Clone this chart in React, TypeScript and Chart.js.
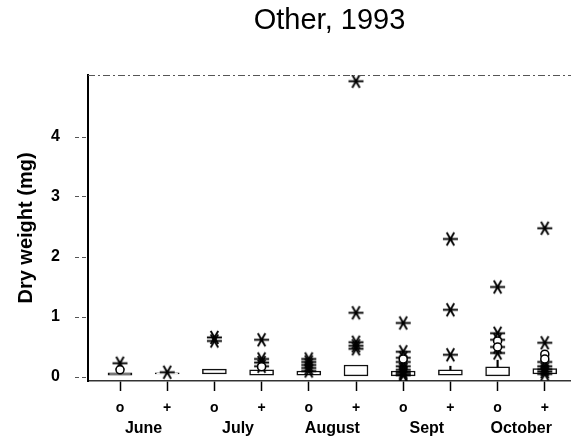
import React, { useEffect, useRef } from "react";
import { Chart, registerables } from "chart.js";

Chart.register(...registerables);

const chartTitle = "Other, 1993";
const yAxisTitle = "Dry weight (mg)";
const groupPositions = [1, 2, 3, 4, 5, 6, 7, 8, 9, 10];
const groupSymbols = ["o", "+", "o", "+", "o", "+", "o", "+", "o", "+"];
const monthPositions = [1.5, 3.5, 5.5, 7.5, 9.5];
const monthLabels = ["June", "July", "August", "Sept", "October"];
const yTickValues = [0, 1, 2, 3, 4];

const boxLow = [0.03, 0.05, 0.05, 0.03, 0.03, 0.02, 0.02, 0.03, 0.02, 0.05];
const boxHigh = [0.07, 0.07, 0.13, 0.12, 0.1, 0.2, 0.1, 0.12, 0.17, 0.14];
const whiskerLow = [null, null, null, null, null, null, null, 0.12, 0.17, null];
const whiskerHigh = [null, null, null, null, null, null, null, 0.18, 0.28, null];

const asterisks: number[][] = [
  [0.23],
  [0.08],
  [0.66, 0.6],
  [0.62, 0.3, 0.24, 0.18],
  [0.3, 0.25, 0.2, 0.15, 0.1],
  [4.93, 1.07, 0.58, 0.52, 0.47],
  [0.9, 0.42, 0.32, 0.25, 0.18, 0.12, 0.08, 0.05, 0.03],
  [2.3, 1.12, 0.37],
  [1.5, 0.73, 0.62, 0.5, 0.4],
  [2.48, 0.57, 0.25, 0.18, 0.13, 0.09, 0.05],
];
const circles: number[][] = [
  [0.12],
  [],
  [],
  [0.17],
  [],
  [],
  [0.3],
  [],
  [0.6, 0.5],
  [0.38, 0.3],
];

const FONT = "'Liberation Sans', Arial, Helvetica, sans-serif";

function makeAsterisk(): HTMLCanvasElement {
  const c = document.createElement("canvas");
  c.width = 17;
  c.height = 17;
  const g = c.getContext("2d")!;
  g.strokeStyle = "#000";
  g.lineWidth = 1.9;
  g.lineCap = "butt";
  const cx = 8.5;
  const cy = 8.5;
  const r = 7.5;
  [0, 60, 120].forEach((deg) => {
    const a = (deg * Math.PI) / 180;
    g.beginPath();
    g.moveTo(cx - r * Math.cos(a), cy - r * Math.sin(a));
    g.lineTo(cx + r * Math.cos(a), cy + r * Math.sin(a));
    g.stroke();
  });
  g.fillStyle = "#000";
  g.beginPath();
  g.arc(cx, cy, 2, 0, Math.PI * 2);
  g.fill();
  return c;
}

const topBorder = {
  id: "topBorder",
  afterDatasetsDraw(chart: any) {
    const { ctx, chartArea } = chart;
    ctx.save();
    ctx.strokeStyle = "#555";
    ctx.lineWidth = 1;
    ctx.setLineDash([7, 3, 2, 3]);
    ctx.beginPath();
    ctx.moveTo(chartArea.left, chartArea.top + 0.5);
    ctx.lineTo(chartArea.right, chartArea.top + 0.5);
    ctx.stroke();
    ctx.restore();
  },
};

export default function App() {
  const ref = useRef<HTMLCanvasElement | null>(null);

  useEffect(() => {
    if (!ref.current) return;
    const star = makeAsterisk();

    const asteriskData: { x: number; y: number }[] = [];
    asterisks.forEach((vals, i) =>
      vals.forEach((v) => asteriskData.push({ x: groupPositions[i], y: v }))
    );
    const circleData: { x: number; y: number }[] = [];
    circles.forEach((vals, i) =>
      vals.forEach((v) => circleData.push({ x: groupPositions[i], y: v }))
    );
    const boxData = groupPositions.map((x, i) => ({ x, y: [boxLow[i], boxHigh[i]] }));
    const whiskerData = groupPositions
      .map((x, i) => (whiskerLow[i] == null ? null : { x, y: [whiskerLow[i], whiskerHigh[i]] }))
      .filter((d) => d !== null);

    const step = 47.2;
    const xMin = 1 - 32 / step;
    const xMax = xMin + 483 / step;

    const chart = new Chart(ref.current, {
      type: "scatter",
      data: {
        datasets: [
          {
            type: "scatter",
            label: "circles",
            data: circleData,
            pointStyle: "circle",
            pointRadius: 4,
            pointBorderWidth: 1.5,
            pointBorderColor: "#000",
            pointBackgroundColor: "#fff",
          },
          {
            type: "scatter",
            label: "outliers",
            data: asteriskData,
            pointStyle: star,
            pointRadius: 8,
          },
          {
            type: "bar",
            label: "whiskers",
            data: whiskerData as any,
            backgroundColor: "#000",
            borderWidth: 0,
            barThickness: 1.5,
            grouped: false,
          },
          {
            type: "bar",
            label: "boxes",
            data: boxData as any,
            backgroundColor: "#fff",
            borderColor: "#111",
            borderWidth: 1.5,
            borderSkipped: false,
            barThickness: 24,
            grouped: false,
          },
        ] as any,
      },
      options: {
        animation: false,
        responsive: false,
        events: [],
        layout: { padding: 0, autoPadding: false },
        plugins: {
          legend: { display: false },
          tooltip: { enabled: false },
          title: {
            display: true,
            text: chartTitle,
            fullSize: false,
            color: "#000",
            font: { family: FONT, size: 29, weight: "normal" },
            padding: { top: 4, bottom: 36.2 },
          },
        },
        scales: {
          x: {
            type: "linear",
            position: "bottom",
            weight: 0,
            offset: false,
            min: xMin,
            max: xMax,
            afterBuildTicks: (s: any) => {
              s.ticks = groupPositions.map((v) => ({ value: v }));
            },
            afterFit: (s: any) => {
              s.height = 37;
              s.paddingLeft = 0;
              s.paddingRight = 0;
            },
            ticks: {
              autoSkip: false,
              maxRotation: 0,
              padding: 9,
              color: "#000",
              font: { family: FONT, size: 14, weight: "bold" },
              callback: (_v: any, i: number) => groupSymbols[i],
            },
            grid: {
              offset: false,
              drawOnChartArea: false,
              drawTicks: true,
              tickLength: 10,
              tickColor: "#000",
              tickWidth: 1.5,
            },
            border: { display: true, color: "#333", width: 1.5, dash: [8, 3] },
          },
          months: {
            type: "linear",
            position: "bottom",
            weight: 1,
            offset: false,
            min: xMin,
            max: xMax,
            afterBuildTicks: (s: any) => {
              s.ticks = monthPositions.map((v) => ({ value: v }));
            },
            afterFit: (s: any) => {
              s.height = 21;
              s.paddingLeft = 0;
              s.paddingRight = 0;
            },
            ticks: {
              autoSkip: false,
              maxRotation: 0,
              padding: 1,
              color: "#000",
              font: { family: FONT, size: 16, weight: "bold" },
              callback: (_v: any, i: number) => monthLabels[i],
            },
            grid: { display: false, drawTicks: false, offset: false },
            border: { display: false },
          },
          y: {
            type: "linear",
            min: -4 / 60,
            max: 302 / 60,
            afterBuildTicks: (s: any) => {
              s.ticks = yTickValues.map((v) => ({ value: v }));
            },
            afterFit: (s: any) => {
              s.width = 88;
            },
            ticks: {
              padding: 15,
              color: "#000",
              font: { family: FONT, size: 16, weight: "bold" },
              callback: (v: any) => String(v),
            },
            grid: {
              drawOnChartArea: false,
              drawTicks: true,
              tickLength: 13,
              tickColor: "#555",
              tickWidth: 1,
              tickBorderDash: [4, 3],
            },
            border: { display: true, color: "#000", width: 2 },
            title: {
              display: true,
              text: yAxisTitle,
              color: "#000",
              font: { family: FONT, size: 20, weight: "bold" },
              padding: { top: 14, bottom: 0 },
            },
          },
        },
      },
      plugins: [topBorder],
    } as any);

    return () => chart.destroy();
  }, []);

  return (
    <div style={{ position: "absolute", left: 0, top: 0, width: 571, height: 439, background: "#fff" }}>
      <canvas ref={ref} width={571} height={439} style={{ display: "block" }} />
    </div>
  );
}
